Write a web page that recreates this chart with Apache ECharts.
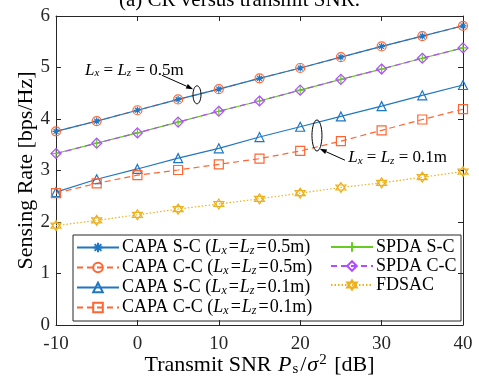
<!DOCTYPE html>
<html><head><meta charset="utf-8">
<script src="https://cdn.jsdelivr.net/npm/echarts@6/dist/echarts.min.js"></script>
<style>html,body{margin:0;padding:0;background:#fff}#c{width:479px;height:377px}</style>
</head><body><div id="c"></div>
<script>
// ---- data ----
const snr = [-10, -5, 0, 5, 10, 15, 20, 25, 30, 35, 40];
const capaSC05 = [3.76, 3.96, 4.17, 4.38, 4.58, 4.79, 4.99, 5.20, 5.41, 5.61, 5.81];
const capaCC05 = [3.76, 3.96, 4.17, 4.38, 4.58, 4.79, 4.99, 5.20, 5.41, 5.61, 5.81];
const spdaSC   = [3.33, 3.53, 3.73, 3.94, 4.15, 4.35, 4.56, 4.77, 4.97, 5.18, 5.38];
const spdaCC   = [3.33, 3.53, 3.73, 3.94, 4.15, 4.35, 4.56, 4.77, 4.97, 5.18, 5.38];
const capaSC01 = [2.58, 2.83, 3.03, 3.24, 3.43, 3.65, 3.85, 4.05, 4.25, 4.46, 4.66];
const capaCC01 = [2.56, 2.75, 2.91, 3.01, 3.12, 3.23, 3.38, 3.57, 3.78, 3.99, 4.19];
const fdsac    = [1.93, 2.03, 2.14, 2.25, 2.35, 2.45, 2.56, 2.67, 2.76, 2.87, 2.98];
const xTicks = [-10, 0, 10, 20, 30, 40];
const yTicks = [0, 1, 2, 3, 4, 5, 6];
const seriesNames = [
  'CAPA S-C (Lx=Lz=0.5m)', 'CAPA C-C (Lx=Lz=0.5m)',
  'CAPA S-C (Lx=Lz=0.1m)', 'CAPA C-C (Lx=Lz=0.1m)',
  'SPDA S-C', 'SPDA C-C', 'FDSAC'
];
const titleText = '(a) CR versus transmit SNR.';

// ---- styles ----
const FONT = "'Liberation Serif', 'Times New Roman', serif";
const BLUE = '#1f77c4', ORANGE = '#ff6633', GREEN = '#66cc22', PURPLE = '#b04dff', YELLOW = '#edb120';
const AX = '#262626';
const SYM = {
  asterisk: 'path://M0,5L10,5M5,0L5,10M1.5,1.5L8.5,8.5M1.5,8.5L8.5,1.5',
  plus: 'path://M0,5L10,5M5,0L5,10',
  hexagram: 'path://M5,0L9.33,7.5L0.67,7.5ZM5,10L9.33,2.5L0.67,2.5Z'
};

const LS = 18;
const rich = {
  n: {fontFamily: FONT, fontSize: LS, lineHeight: 16, color: '#000'},
  e: {fontFamily: FONT, fontSize: LS, lineHeight: 16, color: '#000', padding: [0, 1, 0, 1]},
  i: {fontFamily: FONT, fontSize: LS, lineHeight: 16, fontStyle: 'italic', color: '#000'},
  sub: {fontFamily: FONT, fontSize: 12, lineHeight: 9, fontStyle: 'italic', color: '#000', padding: [7, 1, 0, 0]}
};
function legendLabel(name) {
  const m = name.match(/^(.*)\(Lx=Lz=(.*)\)$/);
  if (!m) return '{n|' + name + '}';
  return '{n|' + m[1] + '(}{i|L}{sub|x}{e|=}{i|L}{sub|z}{e|=}{n|' + m[2] + ')}';
}

function mk(name, data, color, dash, symbol, size) {
  return {
    name, type: 'line', data: snr.map((x, k) => [x, data[k]]),
    symbol, symbolSize: size, showSymbol: true,
    lineStyle: {color, width: 1.2, type: dash},
    itemStyle: {color: 'rgba(0,0,0,0)', borderColor: color, borderWidth: 1.2},
    emphasis: {disabled: true}, animation: false, z: 3
  };
}

const chart = echarts.init(document.getElementById('c'), null, {renderer: 'canvas'});
const series = [
  mk(seriesNames[1], capaCC05, ORANGE, [6, 4], 'circle', 9),
  mk(seriesNames[0], capaSC05, BLUE, 'solid', SYM.asterisk, 7),
  mk(seriesNames[4], spdaSC, GREEN, 'solid', SYM.plus, 8),
  mk(seriesNames[5], spdaCC, PURPLE, [6, 4], 'diamond', 10),
  mk(seriesNames[2], capaSC01, BLUE, 'solid', 'triangle', 9),
  mk(seriesNames[3], capaCC01, ORANGE, [6, 4], 'rect', 9),
  mk(seriesNames[6], fdsac, YELLOW, [1.5, 2], SYM.hexagram, 10)
];

const axisCommon = {
  axisLine: {show: true, onZero: false, lineStyle: {color: AX, width: 1}},
  axisTick: {show: true, inside: true, length: 5, lineStyle: {color: AX}},
  splitLine: {show: false},
  nameMoveOverlap: false
};
const xMin = xTicks[0], xMax = xTicks[xTicks.length - 1], xInt = xTicks[1] - xTicks[0];
const yMin = yTicks[0], yMax = yTicks[yTicks.length - 1], yInt = yTicks[1] - yTicks[0];

const grid = {left: 56, right: 16, top: 16, bottom: 52, containLabel: false, outerBoundsMode: 'none'};
const legendCommon = {
  orient: 'vertical', itemWidth: 42, itemHeight: 12, itemGap: 1, padding: 0,
  selectedMode: false, formatter: legendLabel,
  textStyle: {fontFamily: FONT, fontSize: LS, color: '#000', rich, padding: [0, 0, 0, -2]}
};

chart.setOption({
  animation: false,
  backgroundColor: '#fff',
  title: {text: titleText, left: 'center', top: -15,
    textStyle: {fontFamily: FONT, fontSize: 21, fontWeight: 'normal', color: '#000'}},
  grid,
  xAxis: [
    Object.assign({}, axisCommon, {type: 'value', min: xMin, max: xMax, interval: xInt, position: 'bottom',
      name: '{n|Transmit SNR }{i|P}{s|s}{n|/}{i|σ}{p|2}{n| [dB]}', nameLocation: 'middle', nameGap: 28,
      nameTextStyle: {fontFamily: FONT, fontSize: 22, color: '#000', rich: {
        n: {fontFamily: FONT, fontSize: 22, color: '#000'},
        i: {fontFamily: FONT, fontSize: 22, fontStyle: 'italic', color: '#000', padding: [0, 1, 0, 1]},
        s: {fontFamily: FONT, fontSize: 15, color: '#000', padding: [9, 2, 0, 0]},
        p: {fontFamily: FONT, fontSize: 15, color: '#000', padding: [0, 2, 9, 0]}
      }},
      axisLabel: {fontFamily: FONT, fontSize: 19, color: AX, margin: 10, formatter: v => String(v)}}),
    Object.assign({}, axisCommon, {type: 'value', min: xMin, max: xMax, interval: xInt, position: 'top',
      axisLabel: {show: false}})
  ],
  yAxis: [
    Object.assign({}, axisCommon, {type: 'value', min: yMin, max: yMax, interval: yInt, position: 'left',
      name: 'Sensing Rate [bps/Hz]', nameLocation: 'middle', nameGap: 19,
      nameTextStyle: {fontFamily: FONT, fontSize: 22, color: '#000'},
      axisLabel: {fontFamily: FONT, fontSize: 19, color: AX, margin: 6}}),
    Object.assign({}, axisCommon, {type: 'value', min: yMin, max: yMax, interval: yInt, position: 'right',
      axisLabel: {show: false}})
  ],
  legend: [
    Object.assign({}, legendCommon, {left: 76, top: 238, data: seriesNames.slice(0, 4)}),
    Object.assign({}, legendCommon, {left: 330, top: 238, data: seriesNames.slice(4)})
  ],
  series
});

// ---- annotations (placed in data coordinates) ----
function px(x, y) { return chart.convertToPixel({xAxisIndex: 0, yAxisIndex: 0}, [x, y]); }
function arrow(from, to) {
  const a = px(from[0], from[1]), b = px(to[0], to[1]);
  const dx = b[0] - a[0], dy = b[1] - a[1], L = Math.hypot(dx, dy);
  const ux = dx / L, uy = dy / L, hl = 7, hw = 2.5;
  const base = [b[0] - ux * hl, b[1] - uy * hl];
  return [
    {type: 'line', shape: {x1: a[0], y1: a[1], x2: base[0], y2: base[1]}, style: {stroke: '#000', lineWidth: 1}, z: 10},
    {type: 'polygon', shape: {points: [b, [base[0] - uy * hw, base[1] + ux * hw], [base[0] + uy * hw, base[1] - ux * hw]]},
      style: {fill: '#000'}, z: 10}
  ];
}
function ellipse(c, rx, ry) {
  const p = px(c[0], c[1]);
  return {type: 'ellipse', shape: {cx: p[0], cy: p[1], rx, ry}, style: {fill: 'none', stroke: '#000', lineWidth: 1}, z: 10};
}
const annRich = {
  n: {fontFamily: FONT, fontSize: 17, color: '#000'},
  i: {fontFamily: FONT, fontSize: 17, fontStyle: 'italic', color: '#000'},
  sub: {fontFamily: FONT, fontSize: 11, fontStyle: 'italic', color: '#000', padding: [7, 0, 0, 0]}
};
function label(pos, val) {
  const p = px(pos[0], pos[1]);
  return {type: 'text', x: p[0], y: p[1], z: 10,
    style: {text: '{i|L}{sub|x}{n| = }{i|L}{sub|z}{n| = ' + val + '}', rich: annRich, verticalAlign: 'middle', align: 'left'}};
}
const g = [].concat(
  [label([-6.44, 4.95], '0.5m')],
  arrow([3.0, 4.85], [6.85, 4.58]),
  [ellipse([7.32, 4.47], 4, 9)],
  [ellipse([22.06, 3.68], 5, 15.5)],
  arrow([25.5, 3.2], [22.4, 3.42]),
  [label([25.9, 3.26], '0.1m')],
  [{type: 'rect', shape: {x: 73, y: 235, width: 388, height: 86}, style: {fill: 'none', stroke: AX, lineWidth: 1}, z: 1}]
);
chart.setOption({graphic: g});
</script></body></html>
